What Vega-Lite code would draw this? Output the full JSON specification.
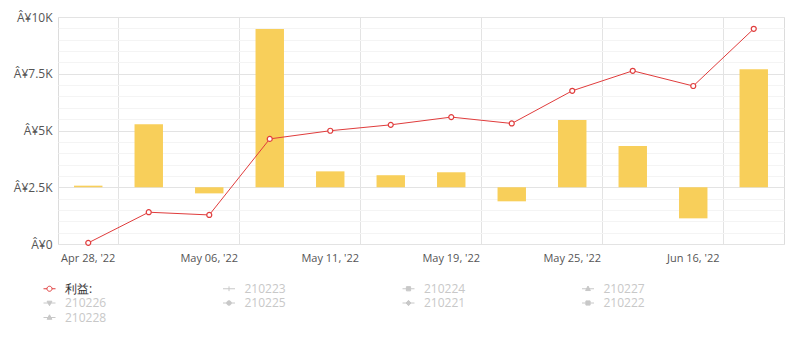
{
  "$schema": "https://vega.github.io/schema/vega-lite/v6.json",
  "width": 726,
  "height": 227,
  "autosize": {"type": "none"},
  "padding": {"left": 58, "top": 17, "right": 7, "bottom": 102},
  "background": "white",
  "config": {
    "view": {"stroke": "#dcdcdc", "strokeWidth": 1},
    "font": "Open Sans",
    "axis": {"labelFont": "Open Sans", "labelFontSize": 11, "labelColor": "#555"}
  },
  "data": {
    "values": [
      {"date": "Apr 28, '22", "bar": 2570, "profit": 50, "series": "利益:"},
      {"date": "May 02, '22", "bar": 5280, "profit": 1400, "series": "利益:"},
      {"date": "May 06, '22", "bar": 2230, "profit": 1280, "series": "利益:"},
      {"date": "May 09, '22", "bar": 9470, "profit": 4630, "series": "利益:"},
      {"date": "May 11, '22", "bar": 3200, "profit": 4990, "series": "利益:"},
      {"date": "May 16, '22", "bar": 3030, "profit": 5250, "series": "利益:"},
      {"date": "May 19, '22", "bar": 3160, "profit": 5590, "series": "利益:"},
      {"date": "May 23, '22", "bar": 1880, "profit": 5310, "series": "利益:"},
      {"date": "May 25, '22", "bar": 5460, "profit": 6750, "series": "利益:"},
      {"date": "Jun 06, '22", "bar": 4320, "profit": 7630, "series": "利益:"},
      {"date": "Jun 16, '22", "bar": 1130, "profit": 6960, "series": "利益:"},
      {"date": "Jun 21, '22", "bar": 7700, "profit": 9480, "series": "利益:"}
    ]
  },
  "layer": [
    {
      "mark": {"type": "bar", "color": "#f8cf5a", "width": {"band": 0.47}},
      "encoding": {
        "x": {
          "field": "date", "type": "nominal", "sort": null, "title": null,
          "scale": {"paddingInner": 0, "paddingOuter": 0},
          "axis": {
            "values": ["Apr 28, '22", "May 06, '22", "May 11, '22", "May 19, '22", "May 25, '22", "Jun 16, '22"],
            "labelAngle": 0, "grid": false, "ticks": false, "tickSize": 0, "domain": false, "labelPadding": 8
          }
        },
        "y": {
          "field": "bar", "type": "quantitative", "title": null,
          "scale": {"domain": [0, 10000], "nice": false},
          "axis": {
            "values": [0, 500, 1000, 1500, 2000, 2500, 3000, 3500, 4000, 4500, 5000, 5500, 6000, 6500, 7000, 7500, 8000, 8500, 9000, 9500, 10000],
            "labelExpr": "datum.value % 2500 === 0 ? 'Â¥' + (datum.value === 0 ? '0' : format(datum.value / 1000, '~g') + 'K') : ''",
            "labelOverlap": false,
            "labelFontSize": 12,
            "gridColor": {"condition": {"test": "datum.value % 2500 === 0", "value": "#e3e3e3"}, "value": "#f4f4f4"},
            "ticks": false, "tickSize": 0, "domain": false, "labelPadding": 6
          }
        },
        "y2": {"datum": 2500}
      }
    },
    {
      "mark": {"type": "line", "color": "#e03c3c", "strokeWidth": 1},
      "encoding": {
        "x": {
          "field": "date", "type": "nominal", "sort": null, "title": null,
          "axis": {
            "orient": "top",
            "values": ["Apr 28, '22", "May 06, '22", "May 11, '22", "May 19, '22", "May 25, '22", "Jun 16, '22"],
            "bandPosition": 1, "grid": true, "gridColor": "#e3e3e3",
            "labels": false, "ticks": false, "domain": false
          }
        },
        "y": {"field": "profit", "type": "quantitative", "axis": null}
      }
    },
    {
      "mark": {"type": "point", "filled": false, "fill": "white", "size": 25, "strokeWidth": 1.2, "opacity": 1},
      "encoding": {
        "x": {"field": "date", "type": "nominal", "sort": null, "axis": null},
        "y": {"field": "profit", "type": "quantitative", "axis": null},
        "color": {
          "field": "series", "type": "nominal",
          "scale": {
            "domain": ["利益:", "210223", "210224", "210227", "210226", "210225", "210221", "210222", "210228"],
            "range": ["#e03c3c", "#c8c8c8", "#c8c8c8", "#c8c8c8", "#c8c8c8", "#c8c8c8", "#c8c8c8", "#c8c8c8", "#c8c8c8"]
          },
          "legend": {
            "orient": "none",
            "legendX": -15,
            "legendY": 265,
            "title": null,
            "values": ["利益:", "210227", "210221", "210223", "210226", "210222", "210224", "210225", "210228"],
            "columns": 4,
            "columnPadding": 113.5,
            "rowPadding": 1.5,
            "padding": 0,
            "symbolSize": 144,
            "labelOffset": 9,
            "labelFont": "Open Sans",
            "labelFontSize": 12,
            "encoding": {
              "symbols": {
                "shape": {
                  "condition": [
                    {"test": "datum.value === '利益:'", "value": "M-1,0H-0.42M0.42,0H1M-0.42,0A0.42,0.42,0,1,1,0.42,0A0.42,0.42,0,1,1,-0.42,0Z"},
                    {"test": "datum.value === '210223'", "value": "M-1,0H1M0,-0.4V0.4"},
                    {"test": "datum.value === '210224' || datum.value === '210222'", "value": "M-1,0H1M-0.35,-0.35H0.35V0.35H-0.35Z"},
                    {"test": "datum.value === '210227' || datum.value === '210228'", "value": "M-1,0H1M0,-0.45L0.4,0.3H-0.4Z"},
                    {"test": "datum.value === '210226'", "value": "M-1,0H1M0,0.45L0.4,-0.3H-0.4Z"},
                    {"test": "datum.value === '210225'", "value": "M-1,0H1M-0.38,0A0.38,0.38,0,1,1,0.38,0A0.38,0.38,0,1,1,-0.38,0Z"}
                  ],
                  "value": "M-1,0H1M0,-0.45L0.4,0L0,0.45L-0.4,0Z"
                },
                "fill": {"condition": {"test": "datum.value === '利益:'", "value": "#ffffff"}, "value": "#c8c8c8"},
                "strokeWidth": {"value": 1},
                "opacity": {"value": 1}
              },
              "labels": {
                "fill": {"condition": {"test": "datum.value === '利益:'", "value": "#333333"}, "value": "#c8c8c8"}
              }
            }
          }
        }
      }
    }
  ],
  "resolve": {"axis": {"x": "independent", "y": "independent"}}
}
